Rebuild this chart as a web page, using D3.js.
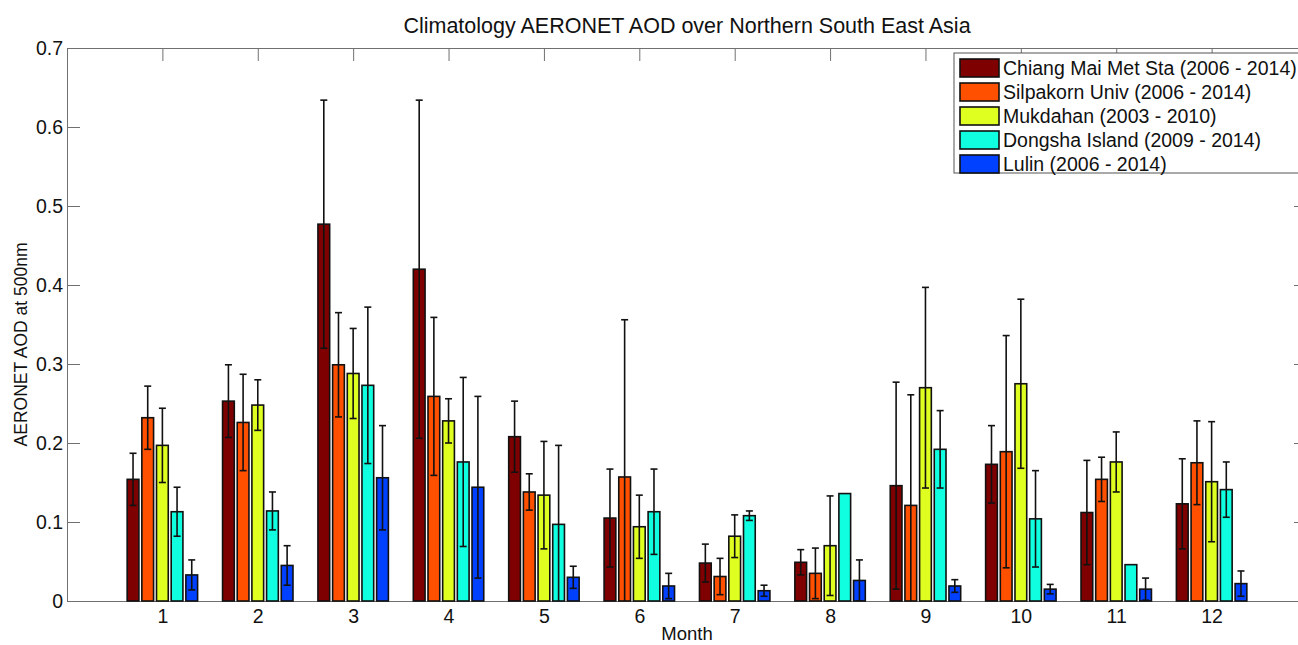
<!DOCTYPE html>
<html>
<head>
<meta charset="utf-8">
<script src="https://cdn.jsdelivr.net/npm/d3@7"></script>
<style>
  body { margin: 0; background: #fff; }
  svg { display: block; font-family: "Liberation Sans", Arial, sans-serif; }
</style>
</head>
<body>
<svg id="chart" width="1298" height="645"></svg>
<script>
const months = [1, 2, 3, 4, 5, 6, 7, 8, 9, 10, 11, 12]
const stations = ['Chiang Mai Met Sta (2006 - 2014)', 'Silpakorn Univ (2006 - 2014)',
    'Mukdahan (2003 - 2010)', 'Dongsha Island (2009 - 2014)', 'Lulin (2006 - 2014)']
const colors = ['#7f0000', '#ff5000', '#dfff20', '#10ffe0', '#0040ff']
const yTicks = [0, 0.1, 0.2, 0.3, 0.4, 0.5, 0.6, 0.7]

// monthly mean AOD and its error (std) for each station
const chiangMai    = [0.154, 0.253, 0.477, 0.420, 0.208, 0.105, 0.048, 0.049, 0.146, 0.173, 0.112, 0.123]
const chiangMaiErr = [0.033, 0.046, 0.157, 0.214, 0.045, 0.062, 0.024, 0.016, 0.131, 0.049, 0.066, 0.057]
const silpakorn    = [0.232, 0.226, 0.299, 0.259, 0.138, 0.157, 0.031, 0.035, 0.121, 0.189, 0.154, 0.175]
const silpakornErr = [0.040, 0.061, 0.066, 0.100, 0.023, 0.199, 0.023, 0.032, 0.140, 0.147, 0.028, 0.053]
const mukdahan     = [0.197, 0.248, 0.288, 0.228, 0.134, 0.094, 0.082, 0.070, 0.270, 0.275, 0.176, 0.151]
const mukdahanErr  = [0.047, 0.032, 0.057, 0.028, 0.068, 0.040, 0.027, 0.063, 0.127, 0.107, 0.038, 0.076]
const dongsha      = [0.113, 0.114, 0.273, 0.176, 0.097, 0.113, 0.108, 0.136, 0.192, 0.104, 0.046, 0.141]
const dongshaErr   = [0.031, 0.024, 0.099, 0.107, 0.100, 0.054, 0.006, null, 0.049, 0.061, null, 0.035]
const lulin        = [0.033, 0.045, 0.156, 0.144, 0.030, 0.019, 0.013, 0.026, 0.019, 0.015, 0.015, 0.022]
const lulinErr     = [0.019, 0.025, 0.066, 0.115, 0.014, 0.016, 0.007, 0.026, 0.008, 0.006, 0.014, 0.016]

const means = [chiangMai, silpakorn, mukdahan, dongsha, lulin]
const errs = [chiangMaiErr, silpakornErr, mukdahanErr, dongshaErr, lulinErr]

const rows = []
means.forEach(function(serie, s){
    serie.forEach(function(v, i){
        rows.push({s: s, month: months[i], value: v, err: errs[s][i]})
    })
})

const svg = d3.select('#chart')
const x = d3.scaleLinear([0, 13], [67, 1307])
const y = d3.scaleLinear([0, 0.7], [601, 48])

const nSeries = stations.length
const slot = Math.min(0.8, nSeries / (nSeries + 1.5)) / nSeries
const barW = x(slot * 0.8) - x(0)
function cx(d){
    return x(d.month + (d.s - (nSeries - 1) / 2) * slot)
}

svg.append('defs').append('clipPath').attr('id', 'plot')
    .append('rect')
    .attr('x', x(0)).attr('y', y(0.7))
    .attr('width', x(13) - x(0)).attr('height', y(0) - y(0.7))

// axes (box with inward ticks)
const axisColor = '#707070'
const axLeft = svg.append('g').attr('transform', `translate(${x(0)},0)`)
    .call(d3.axisLeft(y).tickValues(yTicks).tickSizeInner(-13).tickSizeOuter(0).tickPadding(4)
        .tickFormat(d => d === 0 ? '0' : d3.format('.1f')(d)))
const axRight = svg.append('g').attr('transform', `translate(${x(13)},0)`)
    .call(d3.axisRight(y).tickValues(yTicks).tickSizeInner(-13).tickSizeOuter(0).tickFormat(''))
const axTop = svg.append('g').attr('transform', `translate(0,${y(0.7)})`)
    .call(d3.axisTop(x).tickValues(months).tickSizeInner(-13).tickSizeOuter(0).tickFormat(''))
const axBottom = svg.append('g').attr('transform', `translate(0,${y(0)})`)
    .call(d3.axisBottom(x).tickValues(months).tickSizeInner(-13).tickSizeOuter(0).tickPadding(8))

for (const g of [axLeft, axRight, axTop, axBottom]) {
    g.selectAll('path, line').attr('stroke', axisColor)
    g.selectAll('text').attr('font-size', '19.5px').attr('fill', '#111')
    g.attr('font-family', null)
}

// bars
svg.append('g')
    .selectAll('rect')
    .data(rows)
    .join('rect')
    .attr('x', d => cx(d) - barW / 2)
    .attr('width', barW)
    .attr('y', d => y(d.value))
    .attr('height', d => y(0) - y(d.value))
    .attr('fill', d => colors[d.s])
    .attr('stroke', '#111')
    .attr('stroke-width', 1.6)

// error bars
const withErr = rows.filter(d => d.err != null)
const eb = svg.append('g').attr('clip-path', 'url(#plot)')
    .attr('stroke', '#111').attr('stroke-width', 1.6)
eb.selectAll('line.stem')
    .data(withErr)
    .join('line')
    .attr('class', 'stem')
    .attr('x1', cx).attr('x2', cx)
    .attr('y1', d => y(d.value + d.err))
    .attr('y2', d => y(d.value - d.err))
eb.selectAll('line.capTop')
    .data(withErr)
    .join('line')
    .attr('class', 'capTop')
    .attr('x1', d => cx(d) - 3.5).attr('x2', d => cx(d) + 3.5)
    .attr('y1', d => y(d.value + d.err)).attr('y2', d => y(d.value + d.err))
eb.selectAll('line.capBottom')
    .data(withErr)
    .join('line')
    .attr('class', 'capBottom')
    .attr('x1', d => cx(d) - 3.5).attr('x2', d => cx(d) + 3.5)
    .attr('y1', d => y(d.value - d.err)).attr('y2', d => y(d.value - d.err))

// legend
const legend = svg.append('g').attr('transform', 'translate(954,53)')
legend.append('rect')
    .attr('width', 360).attr('height', 120)
    .attr('fill', '#fff').attr('stroke', '#555').attr('stroke-width', 1)
const item = legend.selectAll('g.item')
    .data(stations)
    .join('g')
    .attr('class', 'item')
    .attr('transform', (d, i) => `translate(6,${6 + i * 24})`)
item.append('rect')
    .attr('width', 39).attr('height', 18)
    .attr('fill', (d, i) => colors[i])
    .attr('stroke', '#111').attr('stroke-width', 1.6)
item.append('text')
    .attr('x', 43).attr('y', 16)
    .attr('font-size', '19.5px')
    .attr('fill', '#111')
    .text(d => d)

// labels
svg.append('text')
    .text('Climatology AERONET AOD over Northern South East Asia')
    .attr('x', x(6.5)).attr('y', 33)
    .attr('text-anchor', 'middle')
    .attr('font-size', '21.5px')
    .attr('fill', '#111')

svg.append('text')
    .text('Month')
    .attr('x', x(6.5)).attr('y', 640)
    .attr('text-anchor', 'middle')
    .attr('font-size', '18.5px')
    .attr('fill', '#111')

svg.append('text')
    .text('AERONET AOD at 500nm')
    .attr('text-anchor', 'middle')
    .attr('font-size', '17.5px')
    .attr('fill', '#111')
    .attr('transform', `translate(27,${(y(0) + y(0.7)) / 2 + 20}) rotate(-90)`)
</script>
</body>
</html>
